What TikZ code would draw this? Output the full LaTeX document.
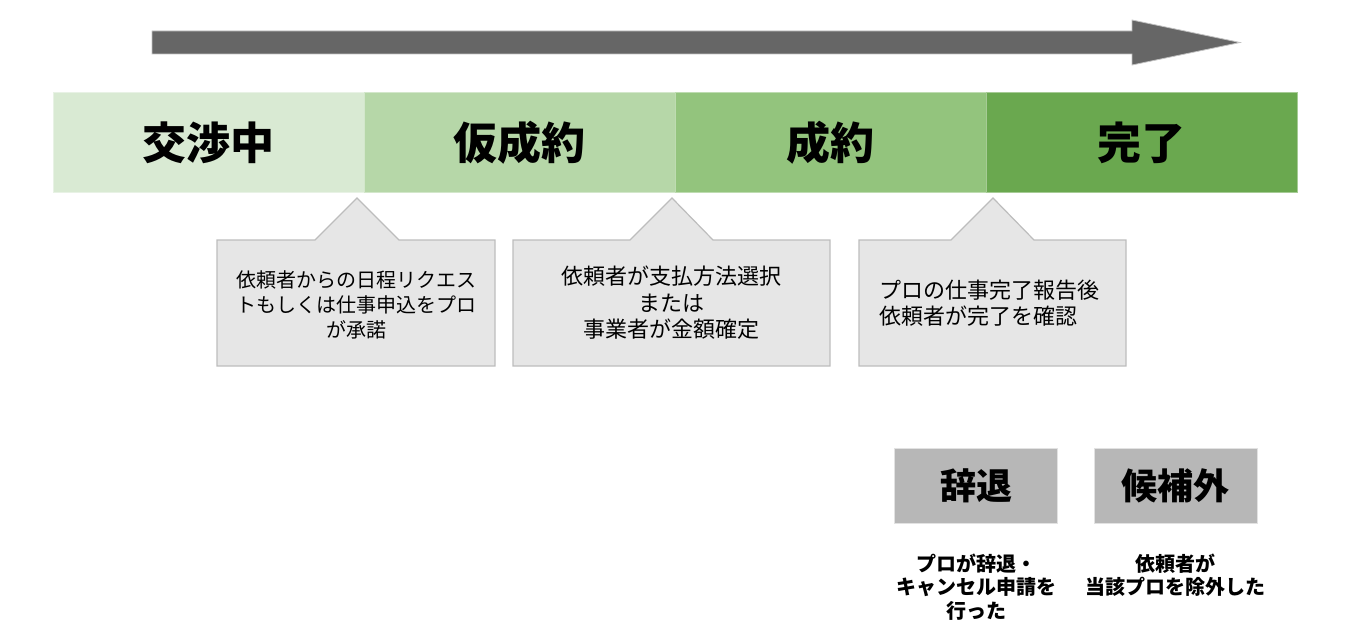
\documentclass[tikz,border=0pt]{standalone}
\usepackage{fontspec}
\setmainfont{Noto Sans CJK JP}
\definecolor{sa}{HTML}{D9EAD3}
\definecolor{sb}{HTML}{B6D7A8}
\definecolor{sc}{HTML}{93C47D}
\definecolor{sd}{HTML}{6AA84F}
\definecolor{arrowgray}{HTML}{666666}
\definecolor{callfill}{HTML}{E6E6E6}
\definecolor{callline}{HTML}{BDBDBD}
\definecolor{boxgray}{HTML}{B7B7B7}
\begin{document}
\begin{tikzpicture}[x=1pt,y=-1pt,
  seg/.style={fill=#1, draw=white!40!#1, line width=0.8pt, minimum width=311pt, minimum height=100pt, inner sep=0pt, anchor=north west, font=\fontsize{44}{50}\selectfont\bfseries},
  callout/.style={fill=callfill, draw=callline, line width=1.2pt},
  calltext/.style={inner sep=0pt, align=#1},
  graybox/.style={fill=boxgray, draw=white!60!boxgray, line width=1pt, minimum width=163pt, minimum height=75pt, inner sep=0pt, font=\fontsize{36}{40}\selectfont\bfseries},
  note/.style={inner sep=0pt, align=center, font=\fontsize{20}{23.5}\selectfont\bfseries}]
\useasboundingbox (0,0) rectangle (1367,642);
% progress arrow
\fill[arrowgray, draw=white!60!arrowgray, line width=0.8pt] (152,31) -- (1132,31) -- (1132,20) -- (1240,42.5) -- (1132,65) -- (1132,54) -- (152,54) -- cycle;
% stage bar
\node[seg=sa] (s1) at (53,92) {交渉中};
\node[seg=sb] (s2) at (364,92) {仮成約};
\node[seg=sc] (s3) at (675,92) {成約};
\node[seg=sd] (s4) at (986,92) {完了};
% callouts
\path[callout] (217,240) -- (315,240) -- (357,198) -- (399,240) -- (495,240) -- (495,366) -- (217,366) -- cycle;
\path[callout] (513,240) -- (630,240) -- (672,198) -- (713,240) -- (830,240) -- (830,366) -- (513,366) -- cycle;
\path[callout] (859,240) -- (951,240) -- (993,198) -- (1034,240) -- (1126,240) -- (1126,366) -- (859,366) -- cycle;
\node[calltext=center, font=\fontsize{20}{25}\selectfont] (c1) at (356,305) {依頼者からの日程リクエス\\トもしくは仕事申込をプロ\\が承諾};
\node[calltext=center, font=\fontsize{22}{26.5}\selectfont] (c2) at (671.5,303) {依頼者が支払方法選択\\または\\事業者が金額確定};
\node[calltext=left, font=\fontsize{22}{26.5}\selectfont] (c3) at (989,303) {プロの仕事完了報告後\\依頼者が完了を確認};
% other statuses
\node[graybox] (jitai) at (976,485.5) {辞退};
\node[graybox] (kohogai) at (1175.5,485.5) {候補外};
\node[note] (n1) at (976,587) {プロが辞退・\\キャンセル申請を\\行った};
\node[note] (n2) at (1175,575) {依頼者が\\当該プロを除外した};
\end{tikzpicture}
\end{document}
